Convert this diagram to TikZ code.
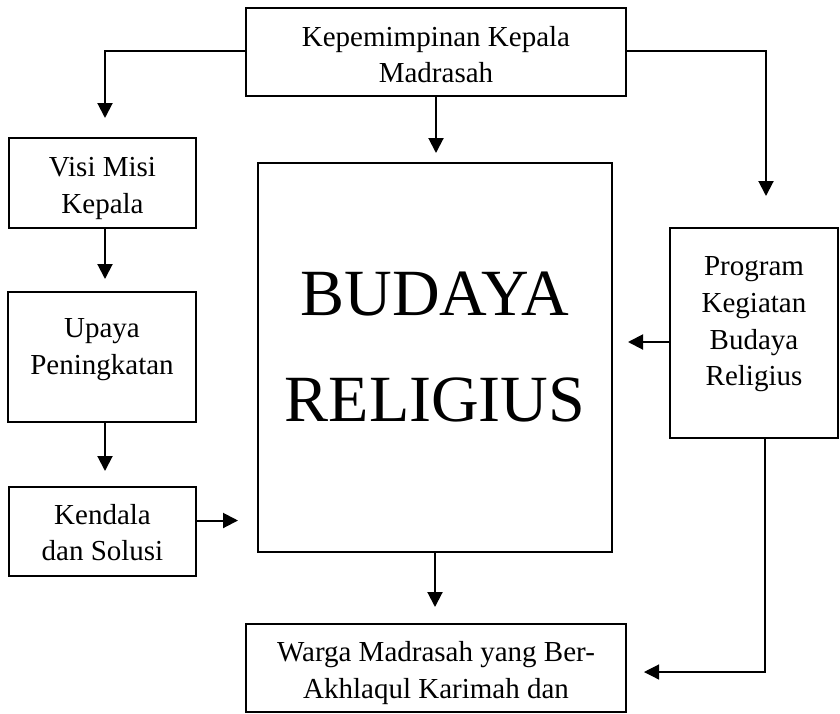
\documentclass[tikz,border=0pt]{standalone}
\usepackage{fontspec}
\setmainfont{Liberation Serif}
\usetikzlibrary{arrows.meta}

\tikzset{
  box/.style={draw, line width=2pt, align=center, inner sep=0pt,
    font=\fontsize{29}{36.6}\selectfont},
  tpos/.style 2 args={text height=#1, text depth=#2},
  arr/.style={line width=2pt, -{Triangle[width=15pt,length=15pt]}},
}

\begin{document}
\begin{tikzpicture}[x=1pt, y=-1pt]
  \useasboundingbox (0,0) rectangle (840,713);

  % Boxes
  \node[box, tpos={71.4pt}{10pt}, minimum width=380pt, minimum height=88pt] (kepala) at (436,52)
    {Kepemimpinan Kepala\\Madrasah};
  \node[box, tpos={70pt}{10pt}, minimum width=187pt, minimum height=90pt] (visi) at (102.5,183)
    {Visi Misi\\Kepala};
  \node[box, tpos={44pt}{10pt}, minimum width=188pt, minimum height=130pt] (upaya) at (102,357)
    {Upaya\\Peningkatan};
  \node[box, tpos={68.4pt}{10pt}, minimum width=187pt, minimum height=89pt] (kendala) at (102.5,531.5)
    {Kendala\\dan Solusi};
  \node[box, tpos={148.4pt}{20pt}, minimum width=354pt, minimum height=389pt,
    font=\fontsize{66}{106.7}\selectfont] (budaya) at (435,357.5)
    {BUDAYA\\RELIGIUS};
  \node[box, tpos={115.4pt}{10pt}, minimum width=168pt, minimum height=210pt] (program) at (754,333)
    {Program\\Kegiatan\\Budaya\\Religius};
  \node[box, tpos={70.6pt}{10pt}, minimum width=380pt, minimum height=88pt] (warga) at (436,668)
    {Warga Madrasah yang Ber-\\Akhlaqul Karimah dan};

  % Arrows from the top
  \draw[arr, shorten >=19pt] ([yshift=1pt]kepala.west) -| ([xshift=2.5pt]visi.north);
  \draw[arr, shorten >=31pt] ([yshift=1pt]kepala.east) -| ([xshift=12pt]program.north);
  \draw[arr, shorten >=9pt] (kepala.south) -- (kepala.south |- budaya.north);

  % Left column
  \draw[arr, shorten >=12pt] ([xshift=2.5pt]visi.south) -- ([xshift=3pt]upaya.north);
  \draw[arr, shorten >=15pt] ([xshift=3pt]upaya.south) -- ([xshift=2.5pt]kendala.north);
  \coordinate (k1) at ([yshift=11pt]kendala.east);
  \draw[arr, shorten >=19pt] (k1) -- (k1 -| budaya.west);

  % Right column
  \coordinate (p1) at ([yshift=-9pt]program.west);
  \draw[arr, shorten >=15pt] (p1) -- (p1 -| budaya.east);
  \coordinate (p2) at ([xshift=11pt]program.south);
  \coordinate (w1) at ([yshift=-4pt]warga.east);
  \draw[line width=1.2pt, -{Triangle[width=15pt,length=15pt]}, shorten >=17pt]
    (p2) |- (w1);

  % Bottom
  \draw[arr, shorten >=16pt] (budaya.south) -- (budaya.south |- warga.north);

\end{tikzpicture}
\end{document}
